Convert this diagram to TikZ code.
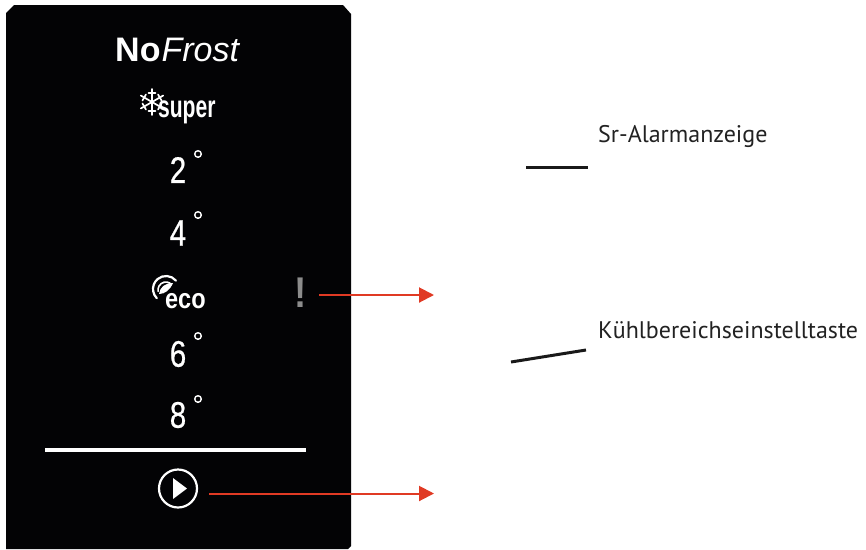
\documentclass[tikz,border=0pt]{standalone}
\usepackage{fontspec}
\setmainfont{PT Sans}
\newfontfamily\dispfont{Liberation Sans}
\newfontfamily\digitfont[FakeBold=0.6]{Liberation Sans}
\usetikzlibrary{arrows.meta}
\definecolor{panelblack}{HTML}{030305}
\definecolor{arrowred}{HTML}{E03A24}
\definecolor{labelgray}{HTML}{222222}
\tikzset{
  lbl/.style={anchor=base west,inner sep=0pt,text=labelgray,font=\fontsize{24}{28}\selectfont},
  screen/.style={inner sep=0pt,text=white},
  digit/.style={screen,font=\digitfont\fontsize{37}{38}\selectfont,xscale=.8},
  deg/.style={draw=white,line width=1.4pt},
  redline/.style={draw=arrowred,line width=2pt,-{Triangle[length=15pt,width=15pt]}},
  blackline/.style={draw=black!90,line width=3pt},
  flakearm/.style={draw=white,line width=1.7pt,line cap=round}
}
\begin{document}
\begin{tikzpicture}[x=1pt,y=-1pt]
\useasboundingbox (0,0) rectangle (866,549);
\fill[panelblack] (14,5) -- (343,5) -- (351,14) -- (351,546) -- (348,549) -- (6,549) -- (6,13) -- cycle;
% NoFrost
\node[screen,anchor=base west] (nf) at (115,61) {\dispfont\fontsize{34}{36}\selectfont\textbf{No}\textit{\hspace{1pt}Frost}};
% super
\foreach \a in {90,150,210,270,330,30}{
  \draw[flakearm] (152,102) -- ++(\a:13);
  \draw[flakearm] (152,102) ++(\a:9) ++(\a+90:3.5) -- ++(\a-90:7);
}
\node[screen,anchor=base west,xscale=.68,font=\dispfont\bfseries\fontsize{31}{31}\selectfont] (sup) at (158,117) {super};
% digits
\node[digit] (d2) at (178,170) {2};
\node[digit] (d4) at (178,233) {4};
\node[digit] (d6) at (178,354) {6};
\node[digit] (d8) at (178,415) {8};
\foreach \p/\q in {198/154,198/215,198/336,198/399}
  \draw[deg] (\p,\q) circle (3.3);
% eco
\draw[white,line width=2.2pt,line cap=round] (166,289) ++(-40:13) arc (-40:-225:13);
\draw[white,line width=1.6pt,line cap=round] (166,290) ++(-60:8) arc (-60:-190:8);
\fill[white] (173,283) .. controls (165,283) and (160,287) .. (159,294) .. controls (165,294) and (170,290) .. (173,283) -- cycle;
\node[screen,anchor=base west,xscale=.84,font=\dispfont\bfseries\fontsize{28}{28}\selectfont] (eco) at (165,308) {eco};
% alarm mark
\node[inner sep=0pt,text=gray!90,font=\dispfont\bfseries\fontsize{43}{43}\selectfont,xscale=.85] (alarm) at (301,293) {!};
% rule
\draw[white,line width=4pt] (45,450) -- (306,450);
% play
\node[circle,draw=white,line width=2.2pt,minimum size=38pt,inner sep=0pt] (play) at (178,488.5) {};
\fill[white] (173,478) -- (187,488.5) -- (173,499) -- cycle;
% connectors
\coordinate (t1) at (434,295);
\coordinate (t2) at (434,493.5);
\coordinate (s1) at (319,295);
\coordinate (s2) at (209,493.5);
\draw[redline] (s1) -- (t1);
\draw[redline] (s2) -- (t2);
\node[lbl] (l1) at (598,142) {Sr-Alarmanzeige};
\node[lbl] (l2) at (598,338) {Kühlbereichseinstelltaste};
\coordinate (a1) at (526,167);
\coordinate (b1) at (588,167);
\coordinate (a2) at (511,362);
\coordinate (b2) at (586,350);
\draw[blackline] (a1) -- (b1);
\draw[blackline] (a2) -- (b2);
\end{tikzpicture}
\end{document}
